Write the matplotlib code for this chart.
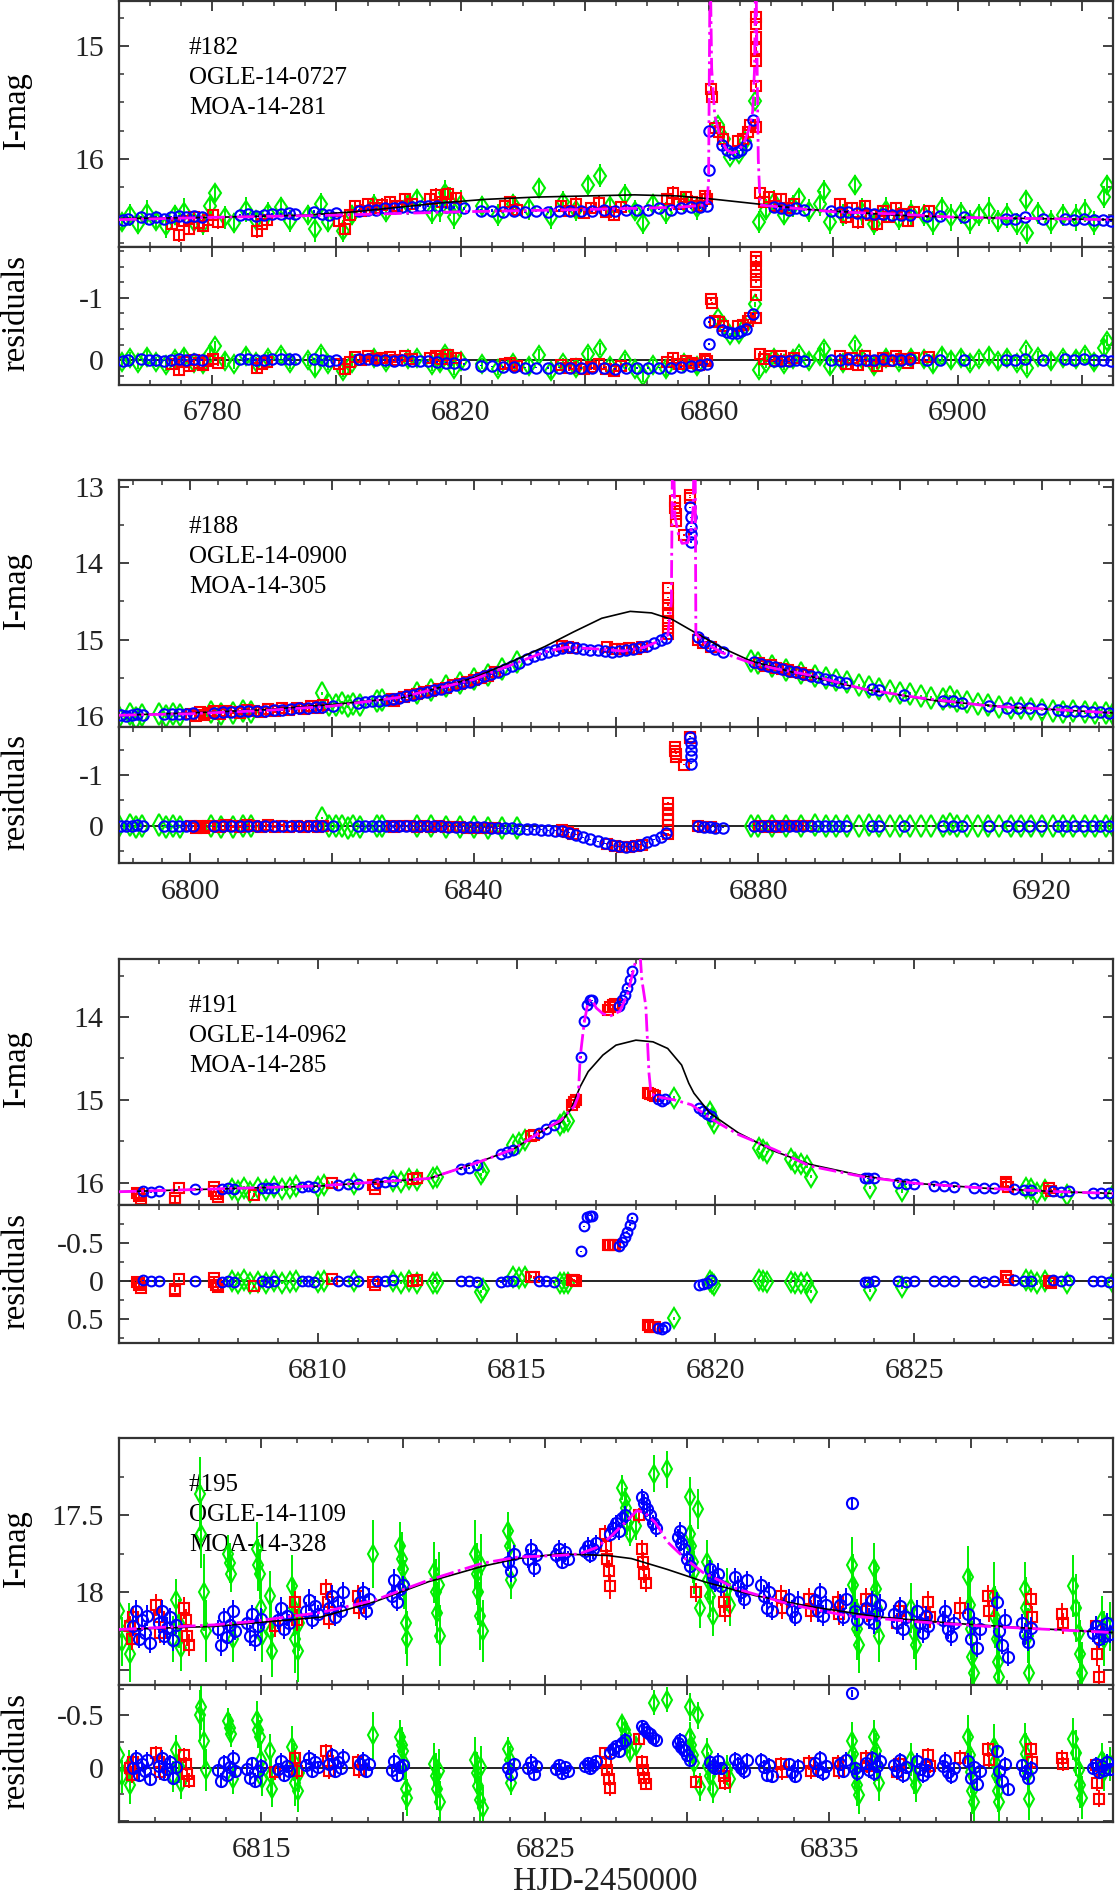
import matplotlib
matplotlib.use("Agg")
import matplotlib.pyplot as plt
from matplotlib.ticker import MultipleLocator, FuncFormatter

plt.rcParams["font.family"] = ["Liberation Serif", "DejaVu Serif"]
plt.rcParams["axes.unicode_minus"] = False

RED = "#ff0000"
BLUE = "#0000ff"
GREEN = "#00ee00"
MAGENTA = "#ff00ff"
FRAME = "#333333"

# ---------------------------------------------------------------- #182
LABEL_182 = ["#182", "OGLE-14-0727", "MOA-14-281"]
SINGLE_182_T = [6765, 6780, 6795, 6803, 6810, 6817, 6824, 6832, 6840, 6848, 6855, 6861,
                6866, 6871, 6876, 6882, 6890, 6900, 6912, 6925]
SINGLE_182_M = [16.53, 16.52, 16.50, 16.47, 16.43, 16.39, 16.36, 16.34, 16.33, 16.32, 16.33, 16.36,
                16.39, 16.42, 16.45, 16.47, 16.50, 16.52, 16.53, 16.54]
BINARY_182_T = [6765, 6780, 6800, 6820, 6840, 6855, 6859.6, 6859.9, 6860.0, 6860.15, 6860.4, 6860.9,
                6861.8, 6862.8, 6863.7, 6864.7, 6865.6, 6866.4, 6867.0, 6867.3, 6867.5, 6867.7,
                6867.9, 6868.2, 6872, 6880, 6890, 6900, 6925]
BINARY_182_M = [16.54, 16.52, 16.50, 16.47, 16.45, 16.43, 16.41, 16.2, 15.4, 14.2, 15.2, 15.62,
                15.82, 15.92, 15.95, 15.93, 15.86, 15.74, 15.58, 15.2, 14.2, 15.1,
                16.0, 16.41, 16.43, 16.47, 16.49, 16.52, 16.54]
# (HJD, I-mag, residual, error)
BLUE_182 = [
    (6765.6, 16.54, 0.01, .012), (6766.4, 16.53, 0.00, .012), (6768.6, 16.52, -0.01, .012),
    (6769.8, 16.53, 0.00, .012), (6771.0, 16.52, 0.00, .012), (6772.2, 16.53, 0.01, .012),
    (6773.4, 16.52, 0.00, .012), (6774.6, 16.51, -0.01, .012), (6775.8, 16.52, 0.00, .012),
    (6777.0, 16.51, -0.01, .012), (6778.3, 16.52, 0.00, .012),
    (6784.5, 16.50, -0.01, .012), (6785.8, 16.49, -0.02, .012), (6787.1, 16.51, 0.00, .012),
    (6788.4, 16.50, 0.00, .012), (6789.7, 16.49, -0.01, .012), (6791.0, 16.49, -0.01, .012),
    (6792.3, 16.48, -0.02, .012), (6793.4, 16.49, -0.01, .012),
    (6796.4, 16.47, -0.02, .012), (6797.6, 16.49, 0.00, .012), (6798.8, 16.50, 0.01, .012),
    (6800.0, 16.48, 0.00, .012),
    (6803.6, 16.46, -0.01, .012), (6805.0, 16.45, -0.01, .012), (6806.4, 16.45, 0.00, .012),
    (6807.8, 16.44, 0.00, .012), (6809.2, 16.44, 0.01, .012), (6810.6, 16.43, 0.00, .012),
    (6812.2, 16.43, 0.01, .012), (6813.4, 16.42, 0.01, .012), (6814.8, 16.42, 0.02, .012),
    (6816.2, 16.42, 0.03, .012), (6817.6, 16.43, 0.04, .012), (6819.0, 16.43, 0.04, .012),
    (6820.5, 16.44, 0.06, .012),
    (6823.2, 16.46, 0.09, .012), (6825.0, 16.46, 0.10, .012), (6826.8, 16.47, 0.11, .012),
    (6828.6, 16.46, 0.11, .012), (6830.4, 16.47, 0.12, .012), (6832.2, 16.46, 0.12, .012),
    (6834.0, 16.47, 0.13, .012), (6835.8, 16.46, 0.12, .012), (6837.6, 16.46, 0.13, .012),
    (6839.4, 16.46, 0.13, .012), (6841.2, 16.46, 0.13, .012), (6843.0, 16.45, 0.12, .012),
    (6844.8, 16.46, 0.14, .012), (6846.6, 16.45, 0.13, .012), (6848.4, 16.45, 0.13, .012),
    (6850.2, 16.45, 0.13, .012), (6852.0, 16.44, 0.12, .012), (6853.8, 16.45, 0.12, .012),
    (6855.4, 16.44, 0.11, .012), (6857.0, 16.43, 0.09, .012), (6858.6, 16.43, 0.08, .012),
    (6859.6, 16.42, 0.06, .012),
    (6859.95, 16.10, -0.26, .012), (6860.0, 15.75, -0.61, .012),
    (6862.0, 15.88, -0.49, .012), (6862.8, 15.92, -0.45, .012), (6863.6, 15.95, -0.43, .012),
    (6864.4, 15.94, -0.44, .012), (6865.2, 15.92, -0.46, .012), (6866.0, 15.88, -0.50, .012),
    (6867.1, 15.66, -0.74, .012),
    (6870.4, 16.43, 0.02, .012), (6871.6, 16.44, 0.01, .012), (6872.8, 16.45, 0.02, .012),
    (6874.0, 16.44, 0.00, .012), (6875.2, 16.45, 0.01, .012),
    (6879.6, 16.46, 0.00, .012), (6881.0, 16.47, 0.00, .012), (6882.4, 16.47, -0.01, .012),
    (6883.8, 16.48, 0.00, .012), (6885.2, 16.48, 0.00, .012), (6886.6, 16.49, 0.00, .012),
    (6888.0, 16.49, -0.01, .012), (6889.4, 16.50, 0.00, .012), (6890.8, 16.50, 0.00, .012),
    (6892.4, 16.50, -0.01, .012), (6895.0, 16.51, 0.00, .012), (6897.2, 16.51, 0.00, .012),
    (6901.0, 16.52, 0.00, .012), (6907.8, 16.53, 0.00, .012), (6909.2, 16.53, 0.00, .012),
    (6910.8, 16.52, -0.01, .012), (6913.8, 16.53, 0.00, .012), (6917.2, 16.53, -0.01, .012),
    (6918.8, 16.54, 0.00, .012), (6920.4, 16.53, -0.01, .012), (6922.0, 16.54, 0.00, .012),
    (6923.4, 16.54, 0.00, .012), (6924.6, 16.55, 0.01, .012),
]
RED_182 = [
    (6773.6, 16.58, 0.06, .05), (6774.6, 16.68, 0.16, .06), (6775.4, 16.55, 0.03, .05),
    (6776.2, 16.62, 0.10, .06), (6777.0, 16.52, 0.00, .05), (6777.8, 16.57, 0.05, .06),
    (6778.6, 16.60, 0.08, .05), (6779.4, 16.54, 0.02, .06), (6780.2, 16.50, -0.02, .05),
    (6781.0, 16.56, 0.04, .06),
    (6787.2, 16.64, 0.13, .06), (6788.0, 16.58, 0.07, .05), (6788.8, 16.54, 0.03, .05),
    (6800.4, 16.55, 0.07, .05), (6801.4, 16.62, 0.15, .06), (6802.2, 16.50, 0.03, .05),
    (6803.0, 16.42, -0.05, .05), (6804.0, 16.46, 0.00, .06), (6805.0, 16.40, -0.06, .05),
    (6806.2, 16.44, -0.01, .05), (6807.4, 16.41, -0.03, .06), (6808.6, 16.38, -0.05, .05),
    (6809.8, 16.42, 0.00, .05), (6811.0, 16.36, -0.06, .06), (6812.2, 16.40, -0.02, .05),
    (6815.0, 16.36, -0.04, .05), (6816.0, 16.32, -0.07, .06), (6817.0, 16.38, -0.01, .05),
    (6818.0, 16.31, -0.08, .06), (6819.2, 16.35, -0.04, .05),
    (6827.2, 16.42, 0.07, .05), (6828.0, 16.38, 0.04, .05), (6829.0, 16.45, 0.10, .06),
    (6836.2, 16.42, 0.08, .05), (6837.4, 16.46, 0.12, .05), (6838.6, 16.40, 0.07, .06),
    (6839.8, 16.48, 0.15, .05), (6841.0, 16.44, 0.11, .05), (6842.2, 16.39, 0.06, .06),
    (6843.4, 16.47, 0.14, .05), (6844.6, 16.50, 0.17, .05), (6845.8, 16.43, 0.10, .05),
    (6853.2, 16.36, 0.03, .05), (6854.2, 16.30, -0.03, .06), (6855.2, 16.40, 0.07, .05),
    (6856.2, 16.34, 0.01, .05), (6857.2, 16.38, 0.04, .06), (6858.4, 16.42, 0.08, .05),
    (6859.4, 16.33, -0.02, .05), (6859.7, 16.36, 0.01, .05),
    (6860.3, 15.38, -0.98, .03), (6860.4, 15.45, -0.91, .03),
    (6861.0, 15.73, -0.63, .03), (6861.6, 15.76, -0.61, .03), (6862.2, 15.82, -0.55, .03),
    (6864.6, 15.84, -0.54, .03), (6865.4, 15.82, -0.56, .03), (6866.2, 15.76, -0.62, .03),
    (6866.6, 15.70, -0.67, .03),
    (6867.5, 14.74, -1.65, .02), (6867.5, 14.80, -1.59, .02), (6867.5, 14.92, -1.47, .02),
    (6867.5, 15.03, -1.36, .02), (6867.5, 15.13, -1.26, .02), (6867.6, 15.35, -1.04, .02),
    (6867.6, 15.72, -0.67, .02),
    (6868.2, 16.30, -0.10, .05), (6868.8, 16.38, -0.02, .06), (6869.6, 16.34, -0.07, .05),
    (6870.6, 16.42, 0.01, .05), (6871.6, 16.36, -0.06, .06), (6872.6, 16.44, 0.02, .05),
    (6873.6, 16.40, -0.04, .05),
    (6881.0, 16.40, -0.06, .05), (6882.0, 16.52, 0.06, .06), (6883.0, 16.44, -0.03, .05),
    (6884.0, 16.56, 0.08, .06), (6885.0, 16.42, -0.06, .05), (6886.0, 16.50, 0.02, .05),
    (6887.0, 16.58, 0.09, .06), (6888.0, 16.46, -0.03, .05), (6889.0, 16.52, 0.02, .05),
    (6890.0, 16.44, -0.06, .06), (6891.0, 16.49, -0.01, .05), (6892.0, 16.55, 0.05, .05),
    (6893.0, 16.47, -0.03, .05), (6895.4, 16.46, -0.05, .05),
]
GREEN_182 = [
    (6765.5, 16.56, 0.03, .08), (6766.8, 16.50, -0.03, .10), (6768.0, 16.58, 0.05, .09),
    (6769.5, 16.48, -0.05, .11), (6771.0, 16.55, 0.03, .08), (6772.5, 16.60, 0.08, .10),
    (6774.0, 16.50, -0.02, .09), (6775.5, 16.47, -0.05, .12), (6777.0, 16.56, 0.04, .08),
    (6778.5, 16.58, 0.06, .10), (6779.6, 16.42, -0.10, .09), (6780.4, 16.30, -0.22, .08),
    (6782.0, 16.52, 0.01, .10), (6783.5, 16.57, 0.06, .09), (6785.5, 16.45, -0.06, .11),
    (6787.0, 16.54, 0.03, .08), (6789.0, 16.48, -0.03, .10), (6791.0, 16.43, -0.08, .09),
    (6792.5, 16.55, 0.04, .10),
    (6795.5, 16.50, 0.00, .09), (6796.5, 16.62, 0.12, .12), (6797.5, 16.40, -0.09, .10),
    (6798.6, 16.56, 0.07, .09), (6801.0, 16.64, 0.17, .10), (6802.5, 16.50, 0.04, .09),
    (6806.0, 16.41, -0.04, .10), (6808.0, 16.47, 0.03, .09), (6811.5, 16.40, -0.02, .10),
    (6813.0, 16.36, -0.04, .09),
    (6815.4, 16.48, 0.08, .10), (6816.6, 16.44, 0.04, .12), (6817.4, 16.30, -0.09, .11),
    (6818.2, 16.38, -0.01, .13), (6819.0, 16.52, 0.14, .10), (6820.0, 16.40, 0.02, .12),
    (6823.5, 16.42, 0.06, .09), (6826.0, 16.50, 0.14, .10), (6828.5, 16.40, 0.05, .09),
    (6831.0, 16.44, 0.10, .10), (6832.6, 16.26, -0.08, .09), (6834.5, 16.52, 0.18, .10),
    (6836.5, 16.38, 0.05, .09), (6838.5, 16.45, 0.12, .10), (6840.5, 16.23, -0.10, .09),
    (6842.4, 16.15, -0.18, .10), (6844.0, 16.42, 0.10, .09), (6846.4, 16.32, 0.00, .10),
    (6848.0, 16.46, 0.14, .09), (6849.3, 16.57, 0.25, .10), (6851.0, 16.40, 0.08, .09),
    (6853.0, 16.48, 0.15, .10), (6856.0, 16.38, 0.05, .09), (6858.0, 16.44, 0.10, .10),
    (6861.4, 15.70, -0.67, .04), (6862.4, 15.82, -0.55, .04), (6863.4, 15.98, -0.40, .04),
    (6864.8, 15.96, -0.42, .04), (6865.8, 15.84, -0.54, .04), (6867.3, 15.49, -0.90, .04),
    (6868.0, 16.56, 0.16, .10), (6869.2, 16.45, 0.04, .09), (6870.5, 16.38, -0.04, .10),
    (6872.0, 16.50, 0.07, .09), (6873.5, 16.42, -0.02, .10), (6874.5, 16.35, -0.09, .09),
    (6876.0, 16.46, 0.01, .10), (6877.8, 16.40, -0.06, .11), (6878.5, 16.29, -0.17, .10),
    (6879.5, 16.56, 0.10, .11), (6881.5, 16.50, 0.04, .10), (6883.4, 16.23, -0.24, .09),
    (6884.6, 16.47, -0.01, .12), (6886.5, 16.58, 0.10, .10), (6888.5, 16.45, -0.04, .11),
    (6890.5, 16.53, 0.03, .10), (6892.5, 16.48, -0.03, .11), (6894.5, 16.50, -0.01, .10),
    (6896.0, 16.57, 0.06, .11), (6897.5, 16.44, -0.07, .10), (6899.0, 16.52, 0.00, .12),
    (6900.5, 16.48, -0.04, .10), (6902.0, 16.56, 0.04, .11), (6903.5, 16.50, -0.02, .10),
    (6905.0, 16.46, -0.07, .12), (6906.5, 16.55, 0.02, .10), (6908.0, 16.50, -0.03, .11),
    (6909.5, 16.58, 0.05, .10), (6911.0, 16.37, -0.16, .09), (6911.2, 16.66, 0.13, .10),
    (6913.0, 16.48, -0.05, .10), (6915.0, 16.56, 0.02, .11), (6917.0, 16.50, -0.03, .10),
    (6919.0, 16.52, -0.02, .12), (6920.5, 16.46, -0.08, .10), (6922.0, 16.57, 0.03, .11),
    (6923.5, 16.34, -0.20, .10), (6924.0, 16.23, -0.31, .09),
]

# ---------------------------------------------------------------- #188
LABEL_188 = ["#188", "OGLE-14-0900", "MOA-14-305"]
SINGLE_188_T = [6790, 6800, 6810, 6820, 6830, 6840, 6845, 6850, 6854, 6858, 6862, 6865, 6868,
                6871, 6875, 6879, 6885, 6895, 6905, 6915, 6930]
SINGLE_188_M = [15.99, 15.96, 15.92, 15.85, 15.76, 15.50, 15.30, 15.09, 14.90, 14.72, 14.63, 14.65,
                14.74, 14.90, 15.11, 15.28, 15.43, 15.65, 15.80, 15.88, 15.96]
BINARY_188_T = [6790, 6800, 6810, 6820, 6830, 6840, 6845, 6850, 6853, 6857, 6861, 6864, 6866,
                6867.3, 6867.8, 6867.95, 6868.1, 6868.3, 6868.8, 6869.3, 6870.1, 6870.6, 6870.85,
                6871.0, 6871.15, 6871.25, 6872.3, 6874.9, 6878.9, 6882, 6887.5, 6895, 6902.6,
                6912.6, 6922.7, 6930]
BINARY_188_M = [15.99, 15.97, 15.93, 15.87, 15.75, 15.52, 15.34, 15.16, 15.10, 15.12, 15.15, 15.10,
                15.02, 14.94, 14.5, 12.6, 12.6, 13.39, 13.62, 13.74, 13.73, 13.55, 13.3,
                12.6, 12.6, 14.92, 15.03, 15.17, 15.30, 15.37, 15.47, 15.65, 15.76,
                15.87, 15.92, 15.96]
BLUE_188 = [
    (6790.3, 15.99, 0.00, .01), (6791.0, 16.00, 0.01, .01), (6791.8, 15.99, 0.00, .01),
    (6792.6, 15.98, -0.01, .01), (6793.4, 15.99, 0.00, .01),
    (6796.4, 15.98, 0.00, .01), (6797.4, 15.98, 0.01, .01), (6798.4, 15.97, 0.00, .01),
    (6799.4, 15.97, 0.00, .01), (6800.4, 15.96, 0.00, .01),
    (6803.4, 15.96, 0.01, .01), (6804.6, 15.95, 0.01, .01), (6805.8, 15.95, 0.00, .01),
    (6807.0, 15.94, 0.00, .01), (6808.2, 15.94, 0.01, .01), (6809.4, 15.93, 0.00, .01),
    (6810.6, 15.93, 0.01, .01), (6811.8, 15.92, 0.01, .01), (6813.0, 15.92, 0.01, .01),
    (6814.2, 15.91, 0.01, .01), (6815.4, 15.90, 0.01, .01), (6816.6, 15.89, 0.00, .01),
    (6817.8, 15.88, 0.01, .01), (6818.6, 15.88, 0.01, .01), (6820.2, 15.87, 0.01, .01),
    (6823.6, 15.83, 0.01, .01), (6824.6, 15.82, 0.01, .01), (6825.6, 15.81, 0.00, .01),
    (6826.6, 15.80, 0.00, .01), (6827.6, 15.79, 0.00, .01), (6828.6, 15.78, 0.01, .01),
    (6829.4, 15.77, 0.01, .01), (6830.4, 15.74, 0.00, .01), (6831.4, 15.72, 0.00, .01),
    (6832.4, 15.70, 0.01, .01), (6833.4, 15.68, 0.00, .01), (6834.4, 15.66, 0.01, .01),
    (6835.4, 15.64, 0.01, .01), (6836.4, 15.62, 0.02, .01), (6837.4, 15.60, 0.02, .01),
    (6838.4, 15.57, 0.02, .01), (6839.4, 15.55, 0.03, .01), (6840.4, 15.52, 0.03, .01),
    (6841.4, 15.48, 0.03, .01), (6842.4, 15.45, 0.04, .01), (6843.4, 15.42, 0.05, .01),
    (6844.4, 15.38, 0.05, .01), (6845.4, 15.34, 0.05, .01), (6846.4, 15.30, 0.06, .01),
    (6847.4, 15.26, 0.07, .01), (6848.4, 15.22, 0.07, .01), (6849.4, 15.19, 0.08, .01),
    (6850.4, 15.16, 0.09, .01), (6851.4, 15.13, 0.10, .01), (6852.4, 15.11, 0.11, .01),
    (6853.4, 15.10, 0.14, .01), (6854.4, 15.11, 0.18, .01), (6855.4, 15.12, 0.23, .01),
    (6856.4, 15.14, 0.27, .01), (6857.4, 15.13, 0.31, .01), (6858.4, 15.15, 0.35, .01),
    (6859.4, 15.16, 0.38, .01), (6860.4, 15.15, 0.40, .01), (6861.4, 15.14, 0.41, .01),
    (6862.4, 15.12, 0.40, .01), (6863.4, 15.10, 0.37, .01), (6864.4, 15.08, 0.33, .01),
    (6865.4, 15.04, 0.28, .01), (6866.4, 15.00, 0.22, .01), (6867.0, 14.98, 0.15, .01),
    (6870.4, 13.27, -1.75, .01), (6870.5, 13.40, -1.63, .01), (6870.5, 13.52, -1.50, .01),
    (6870.6, 13.62, -1.38, .01), (6870.6, 13.72, -1.22, .01),
    (6871.6, 14.97, 0.01, .01), (6872.4, 15.03, 0.02, .01), (6873.2, 15.08, 0.03, .01),
    (6874.0, 15.12, 0.04, .01), (6875.0, 15.16, 0.04, .01),
    (6879.4, 15.29, 0.00, .01), (6880.4, 15.32, 0.00, .01), (6881.4, 15.34, 0.00, .01),
    (6882.4, 15.36, 0.00, .01), (6883.4, 15.38, 0.00, .01), (6884.4, 15.41, 0.00, .01),
    (6885.4, 15.43, 0.00, .01), (6886.4, 15.45, 0.00, .01), (6887.4, 15.47, 0.00, .01),
    (6888.4, 15.49, 0.00, .01), (6889.4, 15.51, 0.00, .01), (6890.4, 15.53, 0.00, .01),
    (6891.4, 15.55, 0.00, .01), (6892.4, 15.57, 0.00, .01),
    (6896.0, 15.65, 0.00, .01), (6897.0, 15.66, 0.00, .01), (6900.6, 15.72, 0.00, .01),
    (6906.0, 15.80, 0.00, .01), (6907.4, 15.81, 0.00, .01), (6908.8, 15.83, 0.00, .01),
    (6912.6, 15.87, 0.00, .01), (6915.0, 15.89, 0.00, .01), (6916.6, 15.90, 0.00, .01),
    (6918.2, 15.90, 0.00, .01), (6919.8, 15.91, 0.00, .01),
    (6922.2, 15.92, 0.00, .01), (6923.4, 15.93, 0.00, .01), (6924.6, 15.93, 0.00, .01),
    (6925.8, 15.94, 0.00, .01), (6927.0, 15.95, 0.00, .01), (6928.2, 15.95, 0.00, .01),
    (6929.4, 15.96, 0.00, .01),
]
RED_188 = [
    (6800.2, 15.97, 0.01, .03), (6800.8, 16.00, 0.04, .03), (6801.4, 15.95, 0.00, .03),
    (6802.0, 15.99, 0.04, .03), (6802.6, 15.96, 0.01, .03), (6803.4, 15.94, 0.00, .03),
    (6804.2, 15.97, 0.02, .03), (6805.0, 15.93, -0.01, .03), (6806.0, 15.95, 0.01, .03),
    (6807.0, 15.96, 0.02, .03), (6808.0, 15.92, -0.01, .03), (6809.0, 15.94, 0.01, .03),
    (6810.0, 15.95, 0.03, .03), (6811.0, 15.91, -0.01, .03), (6812.0, 15.93, 0.02, .03),
    (6813.0, 15.90, 0.00, .03), (6814.0, 15.92, 0.02, .03), (6815.0, 15.89, 0.01, .03),
    (6816.0, 15.91, 0.03, .03), (6817.0, 15.87, 0.00, .03), (6818.0, 15.90, 0.03, .03),
    (6818.8, 15.86, 0.00, .03), (6828.4, 15.78, 0.01, .02), (6828.8, 15.80, 0.03, .02),
    (6830.2, 15.75, 0.01, .02), (6831.0, 15.72, 0.00, .02), (6832.0, 15.71, 0.02, .02),
    (6833.0, 15.68, 0.01, .02), (6834.0, 15.67, 0.02, .02), (6835.0, 15.64, 0.01, .02),
    (6836.0, 15.63, 0.03, .02), (6837.0, 15.60, 0.03, .02), (6838.0, 15.58, 0.03, .02),
    (6839.0, 15.56, 0.04, .02), (6840.0, 15.53, 0.04, .02), (6841.0, 15.50, 0.04, .02),
    (6842.0, 15.47, 0.05, .02), (6843.0, 15.43, 0.05, .02),
    (6852.4, 15.08, 0.08, .02), (6853.2, 15.09, 0.12, .02), (6854.0, 15.11, 0.16, .02),
    (6858.8, 15.10, 0.36, .02), (6859.8, 15.12, 0.39, .02), (6860.8, 15.12, 0.41, .02),
    (6861.8, 15.11, 0.41, .02), (6862.8, 15.12, 0.40, .02), (6863.6, 15.10, 0.38, .02),
    (6867.3, 14.92, 0.16, .01), (6867.3, 14.85, 0.08, .01), (6867.3, 14.75, -0.02, .01),
    (6867.3, 14.65, -0.12, .01), (6867.3, 14.55, -0.22, .01), (6867.3, 14.45, -0.32, .01),
    (6867.3, 14.32, -0.45, .01),
    (6868.3, 13.19, -1.56, .01), (6868.3, 13.28, -1.48, .01), (6868.4, 13.35, -1.42, .01),
    (6868.4, 13.45, -1.36, .01), (6869.6, 13.63, -1.20, .01), (6870.4, 13.11, -1.75, .01),
    (6870.4, 13.14, -1.72, .01),
    (6871.6, 15.00, 0.01, .02), (6872.2, 15.04, 0.02, .02), (6873.4, 15.10, 0.03, .02),
    (6880.2, 15.31, 0.01, .02), (6881.0, 15.34, 0.02, .02), (6881.8, 15.33, 0.00, .02),
    (6882.6, 15.37, 0.02, .02), (6883.4, 15.38, 0.01, .02), (6884.2, 15.40, 0.01, .02),
    (6885.0, 15.42, 0.01, .02), (6886.0, 15.44, 0.01, .02), (6887.0, 15.46, 0.01, .02),
]
GREEN_188 = [
    (6790.0, 16.01, 0.01, .02), (6791.6, 15.98, -0.01, .02), (6792.4, 16.02, 0.03, .02),
    (6793.2, 15.99, 0.00, .02), (6795.6, 15.97, -0.01, .02), (6796.6, 16.00, 0.02, .02),
    (6797.6, 15.98, 0.01, .02), (6798.6, 15.99, 0.02, .02),
    (6803.0, 15.95, 0.00, .02), (6804.4, 15.97, 0.02, .02), (6806.0, 15.96, 0.02, .02),
    (6807.4, 15.94, 0.00, .02), (6808.6, 15.95, 0.01, .02),
    (6818.6, 15.70, -0.15, .02), (6819.6, 15.86, 0.01, .02), (6820.6, 15.85, 0.01, .02),
    (6821.4, 15.83, 0.00, .02), (6822.2, 15.87, 0.04, .02), (6823.0, 15.84, 0.01, .02),
    (6824.0, 15.85, 0.03, .02), (6826.4, 15.80, 0.00, .02), (6827.0, 15.79, 0.00, .02),
    (6832.0, 15.70, 0.01, .02), (6834.0, 15.66, 0.01, .02), (6836.0, 15.61, 0.02, .02),
    (6838.0, 15.57, 0.02, .02), (6840.0, 15.51, 0.03, .02), (6842.0, 15.46, 0.04, .02),
    (6844.0, 15.38, 0.04, .02), (6846.0, 15.29, 0.05, .02),
    (6879.0, 15.28, 0.00, .02), (6880.0, 15.31, 0.01, .02), (6882.0, 15.35, 0.00, .02),
    (6884.0, 15.40, 0.00, .02), (6886.0, 15.44, 0.00, .02), (6888.0, 15.47, -0.01, .02),
    (6889.6, 15.50, 0.00, .02), (6891.0, 15.53, 0.00, .02), (6892.6, 15.56, 0.00, .02),
    (6894.2, 15.60, 0.00, .02), (6895.6, 15.62, -0.01, .02), (6897.0, 15.65, 0.00, .02),
    (6898.6, 15.67, 0.00, .02), (6900.0, 15.70, 0.00, .02), (6901.4, 15.71, 0.00, .02),
    (6903.0, 15.74, 0.00, .02), (6904.4, 15.76, 0.00, .02), (6906.0, 15.78, 0.00, .02),
    (6907.0, 15.75, -0.04, .02), (6908.0, 15.81, 0.00, .02), (6909.4, 15.82, 0.00, .02),
    (6911.0, 15.84, 0.00, .02), (6912.4, 15.86, 0.00, .02), (6914.0, 15.88, 0.00, .02),
    (6915.6, 15.89, 0.00, .02), (6917.0, 15.90, 0.00, .02), (6918.4, 15.91, 0.00, .02),
    (6920.0, 15.92, 0.00, .02), (6921.6, 15.93, 0.00, .02), (6923.0, 15.95, 0.01, .02),
    (6924.4, 15.94, 0.00, .02), (6926.0, 15.95, 0.00, .02), (6927.4, 15.96, 0.00, .02),
    (6929.0, 15.96, 0.00, .02), (6930.0, 15.97, 0.00, .02),
]

# ---------------------------------------------------------------- #191
LABEL_191 = ["#191", "OGLE-14-0962", "MOA-14-285"]
SINGLE_191_T = [6805, 6810.1, 6812.8, 6814.0, 6814.9, 6815.84, 6816.1, 6816.36, 6816.6, 6816.8,
                6817.17, 6817.5, 6818.0, 6818.43, 6818.8, 6819.15, 6819.33, 6819.46, 6819.86,
                6820.58, 6821.48, 6822.38, 6823.73, 6825.07, 6826.87, 6828.67, 6830]
SINGLE_191_M = [16.11, 16.04, 15.95, 15.76, 15.60, 15.32, 15.28, 15.12, 14.84, 14.66,
                14.46, 14.34, 14.28, 14.30, 14.38, 14.58, 14.80, 14.92, 15.16,
                15.40, 15.62, 15.78, 15.92, 16.01, 16.07, 16.11, 16.13]
BINARY_191_T = [6805, 6810, 6812.8, 6814.0, 6814.9, 6815.84, 6816.1, 6816.45, 6816.55, 6816.6,
                6816.7, 6816.8, 6816.9, 6817.0, 6817.17, 6817.35, 6817.6, 6817.8, 6818.0,
                6818.05, 6818.1, 6818.15, 6818.25, 6818.33, 6818.38, 6818.5, 6818.96, 6819.4,
                6819.86, 6820.58, 6821.48, 6822.38, 6823.73, 6825.07, 6826.87, 6828.67, 6830]
BINARY_191_M = [16.11, 16.04, 15.95, 15.76, 15.60, 15.32, 15.25, 15.08, 14.96, 14.48,
                14.07, 13.81, 13.79, 13.89, 13.96, 13.99, 13.93, 13.71, 13.31,
                13.1, 13.2, 13.55, 13.87, 14.68, 14.92, 14.96, 15.00, 15.06,
                15.22, 15.42, 15.60, 15.80, 15.93, 16.01, 16.07, 16.11, 16.13]
BLUE_191 = [
    (6805.6, 16.10, -0.01, .01), (6805.8, 16.11, 0.00, .01), (6806.0, 16.10, 0.00, .01),
    (6806.9, 16.08, 0.00, .01), (6807.6, 16.08, 0.01, .01), (6807.75, 16.07, 0.00, .01),
    (6807.9, 16.08, 0.01, .01), (6808.6, 16.06, 0.00, .01), (6808.75, 16.07, 0.01, .01),
    (6808.9, 16.06, 0.00, .01), (6809.6, 16.05, 0.00, .01), (6809.75, 16.04, 0.00, .01),
    (6809.9, 16.05, 0.01, .01), (6810.5, 16.03, 0.00, .01), (6810.75, 16.02, 0.00, .01),
    (6811.0, 16.02, 0.00, .01), (6811.5, 16.00, 0.00, .01), (6811.7, 15.99, 0.00, .01),
    (6811.9, 15.98, -0.01, .01), (6813.6, 15.84, 0.00, .01), (6813.8, 15.82, 0.00, .01),
    (6814.0, 15.79, 0.01, .01), (6814.6, 15.66, 0.01, .01), (6814.75, 15.63, 0.00, .01),
    (6814.9, 15.60, 0.00, .01), (6815.56, 15.40, 0.00, .01), (6815.75, 15.35, 0.00, .01),
    (6815.95, 15.31, 0.01, .01),
    (6816.62, 14.48, -0.39, .01), (6816.7, 14.05, -0.72, .01), (6816.77, 13.85, -0.84, .01),
    (6816.84, 13.79, -0.86, .01), (6816.9, 13.80, -0.85, .01), (6817.58, 13.87, -0.46, .01),
    (6817.66, 13.80, -0.52, .01), (6817.72, 13.73, -0.58, .01), (6817.78, 13.65, -0.65, .01),
    (6817.84, 13.55, -0.74, .01), (6817.9, 13.45, -0.83, .01),
    (6818.56, 14.99, 0.62, .01), (6818.65, 15.01, 0.63, .01), (6818.72, 14.99, 0.60, .01),
    (6819.6, 15.10, 0.05, .01), (6819.7, 15.14, 0.04, .01), (6819.8, 15.17, 0.02, .01),
    (6819.9, 15.20, -0.01, .01),
    (6823.75, 15.94, 0.01, .01), (6823.85, 15.95, 0.01, .01), (6824.0, 15.95, 0.00, .01),
    (6824.6, 16.00, 0.00, .01), (6824.8, 16.02, 0.01, .01), (6825.0, 16.02, 0.00, .01),
    (6825.5, 16.04, 0.00, .01), (6825.75, 16.04, 0.00, .01), (6826.0, 16.05, 0.00, .01),
    (6826.5, 16.06, 0.00, .01), (6826.75, 16.07, 0.01, .01), (6827.0, 16.07, 0.00, .01),
    (6827.5, 16.08, -0.01, .01), (6827.75, 16.09, 0.00, .01), (6827.95, 16.09, 0.00, .01),
    (6828.5, 16.10, -0.01, .01), (6828.7, 16.11, 0.00, .01), (6828.9, 16.10, -0.01, .01),
    (6829.5, 16.12, 0.00, .01), (6829.7, 16.12, 0.00, .01), (6829.9, 16.13, 0.01, .01),
]
RED_191 = [
    (6805.45, 16.12, 0.01, .02), (6805.5, 16.16, 0.05, .02), (6805.55, 16.20, 0.09, .02),
    (6805.5, 16.14, 0.03, .02), (6806.4, 16.22, 0.13, .02), (6806.4, 16.19, 0.10, .02),
    (6806.5, 16.06, -0.03, .02), (6807.4, 16.05, -0.04, .02), (6807.4, 16.10, 0.01, .02),
    (6807.45, 16.14, 0.05, .02), (6807.5, 16.17, 0.08, .02), (6808.4, 16.15, 0.07, .02),
    (6810.36, 16.00, -0.03, .02), (6811.4, 16.03, 0.01, .02), (6811.45, 16.08, 0.05, .02),
    (6812.4, 15.96, 0.00, .02), (6812.5, 15.95, -0.01, .02), (6815.35, 15.44, -0.06, .02),
    (6815.45, 15.42, -0.05, .02),
    (6816.4, 15.06, -0.02, .02), (6816.45, 15.03, -0.01, .02), (6816.5, 15.00, 0.00, .02),
    (6817.3, 13.91, -0.47, .01), (6817.36, 13.88, -0.48, .01), (6817.42, 13.86, -0.47, .01),
    (6817.48, 13.84, -0.48, .01),
    (6818.3, 14.92, 0.58, .01), (6818.36, 14.93, 0.60, .01), (6818.42, 14.94, 0.60, .01),
    (6818.48, 14.95, 0.61, .01),
    (6827.3, 16.02, -0.05, .02), (6827.3, 15.99, -0.07, .02), (6827.35, 16.05, -0.02, .02),
    (6828.4, 16.06, 0.00, .02), (6828.45, 16.10, 0.03, .02),
]
GREEN_191 = [
    (6807.85, 16.08, 0.00, .02), (6808.0, 16.10, 0.02, .02), (6808.15, 16.06, -0.01, .02),
    (6808.3, 16.11, 0.03, .02), (6808.5, 16.07, 0.01, .02), (6808.7, 16.09, 0.03, .02),
    (6808.9, 16.05, 0.00, .02), (6809.1, 16.08, 0.02, .02), (6809.3, 16.06, 0.01, .02),
    (6809.45, 16.04, 0.00, .02), (6810.0, 16.05, 0.01, .02), (6810.15, 16.03, 0.00, .02),
    (6810.9, 16.02, 0.00, .02), (6811.9, 15.98, 0.00, .02), (6812.1, 15.99, 0.02, .02),
    (6812.3, 15.96, 0.00, .02), (6812.5, 15.97, 0.02, .02), (6812.9, 15.94, 0.02, .02),
    (6813.0, 15.93, 0.02, .02), (6814.1, 15.90, 0.14, .02), (6814.15, 15.86, 0.10, .02),
    (6814.9, 15.55, -0.05, .02), (6815.05, 15.52, -0.04, .02), (6815.2, 15.48, -0.05, .02),
    (6816.1, 15.30, 0.02, .02), (6816.2, 15.27, 0.02, .02), (6816.3, 15.25, 0.03, .02),
    (6818.96, 14.98, 0.49, .02),
    (6819.87, 15.15, 0.00, .02), (6819.92, 15.22, 0.02, .02), (6819.97, 15.28, 0.05, .02),
    (6821.1, 15.58, -0.01, .02), (6821.2, 15.61, 0.00, .02), (6821.3, 15.64, 0.01, .02),
    (6821.9, 15.72, 0.01, .02), (6822.0, 15.76, 0.03, .02), (6822.15, 15.78, 0.03, .02),
    (6822.3, 15.80, 0.02, .02), (6822.4, 15.93, 0.14, .02),
    (6823.9, 16.06, 0.12, .02), (6824.7, 16.10, 0.08, .02),
    (6827.8, 16.06, -0.02, .02), (6827.95, 16.08, 0.00, .02), (6828.1, 16.12, 0.03, .02),
    (6828.3, 16.09, 0.00, .02), (6828.85, 16.15, 0.03, .02), (6830.0, 16.15, 0.02, .02),
]

# ---------------------------------------------------------------- #195
LABEL_195 = ["#195", "OGLE-14-1109", "MOA-14-328"]
SINGLE_195_T = [6810, 6813.35, 6817.1, 6819.0, 6820.9, 6822.8, 6824.05, 6825.5, 6827.2, 6828.04,
                6829.3, 6830.6, 6832.4, 6834.3, 6836.8, 6839.4, 6841.9, 6845]
SINGLE_195_M = [18.24, 18.22, 18.16, 18.06, 17.93, 17.83, 17.78, 17.75, 17.76, 17.78,
                17.85, 17.93, 18.02, 18.09, 18.16, 18.20, 18.23, 18.26]
BINARY_195_T = [6810, 6813.35, 6814.6, 6817.1, 6819.0, 6820.9, 6822.8, 6824.05, 6825.5, 6826.2,
                6826.8, 6827.3, 6827.8, 6828.23, 6828.5, 6828.9, 6829.3, 6829.93, 6830.56,
                6831.8, 6833.7, 6835.6, 6838.1, 6840.6, 6845]
BINARY_195_M = [18.24, 18.21, 18.19, 18.13, 18.05, 17.92, 17.81, 17.77, 17.76, 17.75,
                17.71, 17.64, 17.55, 17.47, 17.48, 17.55, 17.67, 17.78, 17.87,
                17.98, 18.08, 18.15, 18.19, 18.22, 18.26]
BLUE_195 = [
    (6810.5, 18.22, 0.00, .06), (6810.6, 18.12, -0.10, .07), (6810.7, 18.30, 0.07, .06),
    (6810.8, 18.18, -0.04, .07), (6810.9, 18.26, 0.03, .06), (6811.0, 18.15, -0.08, .07),
    (6811.1, 18.33, 0.10, .06), (6811.4, 18.20, -0.02, .06), (6811.5, 18.12, -0.10, .07),
    (6811.6, 18.28, 0.06, .06), (6811.7, 18.23, 0.01, .07), (6811.8, 18.16, -0.06, .06),
    (6811.9, 18.31, 0.09, .07), (6812.0, 18.21, -0.01, .06),
    (6813.5, 18.24, 0.02, .06), (6813.6, 18.34, 0.12, .07), (6813.7, 18.16, -0.06, .06),
    (6813.8, 18.29, 0.07, .07), (6813.9, 18.21, -0.01, .06), (6814.0, 18.12, -0.10, .07),
    (6814.1, 18.25, 0.03, .06), (6814.5, 18.20, 0.01, .06), (6814.6, 18.28, 0.09, .07),
    (6814.7, 18.14, -0.05, .06), (6814.8, 18.31, 0.12, .07), (6814.9, 18.22, 0.03, .06),
    (6815.0, 18.17, -0.02, .07), (6815.6, 18.18, 0.01, .06), (6815.7, 18.10, -0.07, .07),
    (6815.8, 18.24, 0.07, .06), (6815.9, 18.15, -0.02, .07), (6816.0, 18.20, 0.03, .06),
    (6816.6, 18.12, -0.03, .06), (6816.7, 18.05, -0.10, .07), (6816.8, 18.18, 0.03, .06),
    (6816.9, 18.09, -0.06, .07), (6817.0, 18.14, -0.01, .06),
    (6817.4, 18.10, -0.04, .06), (6817.5, 18.02, -0.12, .07), (6817.6, 18.16, 0.03, .06),
    (6817.7, 18.06, -0.06, .07), (6817.8, 18.12, 0.00, .06), (6817.9, 18.00, -0.11, .07),
    (6818.5, 18.06, -0.04, .06), (6818.6, 18.00, -0.08, .07), (6818.7, 18.12, 0.03, .06),
    (6818.8, 18.04, -0.04, .07),
    (6819.6, 18.02, 0.02, .06), (6819.7, 17.92, -0.07, .07), (6819.8, 18.06, 0.07, .06),
    (6819.9, 17.98, -0.01, .07), (6820.0, 17.95, -0.03, .06),
    (6823.7, 17.80, 0.00, .06), (6823.8, 17.86, 0.06, .07), (6823.9, 17.75, -0.04, .06),
    (6824.4, 17.78, 0.00, .06), (6824.5, 17.72, -0.06, .07), (6824.6, 17.84, 0.06, .06),
    (6824.7, 17.76, -0.02, .07),
    (6825.4, 17.76, 0.01, .05), (6825.5, 17.72, -0.03, .06), (6825.6, 17.80, 0.05, .05),
    (6825.7, 17.74, -0.01, .06), (6825.8, 17.78, 0.03, .05),
    (6826.4, 17.73, -0.02, .05), (6826.5, 17.70, -0.05, .06), (6826.6, 17.76, 0.00, .05),
    (6826.7, 17.72, -0.03, .06), (6826.8, 17.68, -0.07, .05),
    (6827.3, 17.62, -0.14, .05), (6827.4, 17.58, -0.18, .06), (6827.5, 17.55, -0.21, .05),
    (6827.6, 17.60, -0.16, .06), (6827.7, 17.52, -0.24, .05), (6827.8, 17.50, -0.27, .06),
    (6828.4, 17.38, -0.40, .05), (6828.5, 17.42, -0.37, .06), (6828.6, 17.46, -0.34, .05),
    (6828.7, 17.50, -0.32, .06), (6828.8, 17.55, -0.29, .05), (6828.9, 17.58, -0.27, .06),
    (6829.7, 17.64, -0.24, .05), (6829.75, 17.60, -0.27, .06), (6829.8, 17.68, -0.20, .05),
    (6829.9, 17.72, -0.17, .06), (6830.0, 17.78, -0.12, .05), (6830.1, 17.83, -0.08, .06),
    (6830.8, 17.85, -0.06, .06), (6830.9, 17.90, -0.02, .07), (6831.0, 17.94, 0.00, .06),
    (6831.1, 17.88, -0.07, .07), (6831.2, 17.96, 0.00, .06),
    (6831.7, 17.90, -0.09, .06), (6831.8, 17.96, -0.04, .07), (6831.9, 18.00, 0.00, .06),
    (6832.0, 18.04, 0.03, .07), (6832.1, 17.92, -0.08, .06),
    (6832.6, 17.95, -0.08, .06), (6832.7, 18.02, -0.01, .07), (6832.8, 18.10, 0.07, .06),
    (6832.9, 18.00, -0.03, .07), (6833.0, 18.12, 0.08, .06),
    (6833.6, 18.04, -0.04, .06), (6833.7, 18.12, 0.04, .07), (6833.8, 18.16, 0.08, .06),
    (6833.9, 18.06, -0.02, .07),
    (6834.5, 18.05, -0.05, .06), (6834.6, 18.12, 0.02, .07), (6834.7, 18.00, -0.10, .06),
    (6834.8, 18.15, 0.05, .07), (6834.9, 18.08, -0.02, .06),
    (6835.4, 18.08, -0.04, .07), (6835.5, 18.16, 0.03, .06), (6835.6, 18.04, -0.08, .07),
    (6835.8, 17.42, -0.71, .03), (6835.9, 18.12, 0.00, .06), (6836.0, 18.18, 0.05, .07),
    (6836.3, 18.10, -0.05, .06), (6836.4, 18.17, 0.02, .07), (6836.5, 18.05, -0.10, .06),
    (6836.6, 18.20, 0.05, .07), (6836.7, 18.13, -0.02, .06), (6836.8, 18.08, -0.07, .07),
    (6837.3, 18.14, -0.03, .06), (6837.4, 18.20, 0.03, .07), (6837.5, 18.09, -0.08, .06),
    (6837.6, 18.24, 0.07, .07), (6837.7, 18.16, -0.01, .06),
    (6838.1, 18.12, -0.07, .07), (6838.2, 18.20, 0.01, .06), (6838.3, 18.26, 0.07, .07),
    (6838.4, 18.15, -0.04, .06), (6838.5, 18.22, 0.03, .07),
    (6839.0, 18.18, -0.02, .06), (6839.1, 18.12, -0.08, .07), (6839.2, 18.24, 0.04, .06),
    (6839.3, 18.28, 0.08, .07), (6839.4, 18.20, 0.00, .06),
    (6839.9, 18.14, -0.07, .07), (6840.0, 18.30, 0.09, .06), (6840.1, 18.20, -0.01, .07),
    (6840.2, 18.36, 0.15, .06), (6840.3, 18.24, 0.03, .07),
    (6840.9, 18.06, -0.16, .06), (6841.0, 18.25, 0.03, .07), (6841.1, 18.34, 0.12, .06),
    (6841.2, 18.18, -0.04, .07), (6841.3, 18.42, 0.20, .06),
    (6841.8, 18.20, -0.03, .06), (6841.9, 18.27, 0.04, .07), (6842.0, 18.32, 0.09, .06),
    (6842.1, 18.23, 0.00, .07),
    (6844.3, 18.26, 0.00, .06), (6844.4, 18.22, -0.04, .07), (6844.5, 18.30, 0.04, .06),
    (6844.6, 18.24, -0.02, .07), (6844.7, 18.28, 0.02, .06), (6844.8, 18.20, -0.06, .07),
    (6844.9, 18.27, 0.01, .06),
]
RED_195 = [
    (6810.4, 18.22, 0.00, .07), (6810.45, 18.30, 0.07, .07), (6810.5, 18.16, -0.06, .07),
    (6811.3, 18.08, -0.14, .07), (6811.4, 18.16, -0.06, .07), (6811.45, 18.26, 0.04, .07),
    (6812.3, 18.10, -0.12, .07), (6812.35, 18.18, -0.04, .07), (6812.4, 18.28, 0.06, .07),
    (6812.45, 18.34, 0.12, .07), (6815.5, 18.22, 0.04, .07), (6816.2, 18.06, -0.10, .07),
    (6816.25, 18.18, 0.03, .07), (6817.3, 17.98, -0.16, .07), (6817.35, 18.06, -0.07, .07),
    (6817.4, 18.17, 0.03, .07), (6818.4, 18.02, -0.06, .07), (6818.45, 18.10, 0.02, .07),
    (6827.1, 17.62, -0.14, .06), (6827.15, 17.70, -0.06, .06), (6827.2, 17.78, 0.02, .06),
    (6827.25, 17.86, 0.10, .07), (6827.3, 17.96, 0.19, .08),
    (6828.3, 17.50, -0.28, .05), (6828.4, 17.72, -0.06, .06), (6828.45, 17.80, 0.02, .06),
    (6828.5, 17.88, 0.09, .06), (6828.55, 17.94, 0.15, .06),
    (6830.3, 18.00, 0.13, .06), (6831.3, 18.06, 0.08, .07), (6831.35, 18.12, 0.14, .07),
    (6833.3, 18.02, -0.04, .07), (6833.35, 18.10, 0.04, .07),
    (6834.3, 18.04, -0.05, .07), (6834.35, 18.12, 0.03, .07),
    (6835.3, 18.06, -0.05, .07), (6835.35, 18.14, 0.03, .07),
    (6836.3, 18.04, -0.10, .07), (6836.35, 18.12, -0.02, .07),
    (6837.4, 18.20, 0.04, .07), (6837.45, 18.12, -0.04, .07),
    (6838.5, 18.06, -0.12, .07), (6838.55, 18.16, -0.02, .07), (6839.6, 18.10, -0.10, .07),
    (6840.6, 18.02, -0.18, .07), (6840.65, 18.12, -0.08, .07),
    (6842.1, 18.04, -0.18, .07), (6842.15, 18.16, -0.06, .07),
    (6843.2, 18.14, -0.10, .07), (6843.25, 18.20, -0.04, .07),
    (6844.4, 18.22, -0.03, .07), (6844.45, 18.40, 0.14, .08), (6844.5, 18.55, 0.29, .08),
]
GREEN_195 = [
    (6810.0, 18.12, -0.12, .14), (6810.1, 18.32, 0.08, .16), (6810.35, 18.22, -0.02, .15),
    (6810.4, 18.40, 0.16, .18), (6811.9, 18.30, 0.08, .15), (6812.0, 18.05, -0.17, .14),
    (6812.1, 18.20, -0.02, .16), (6812.2, 18.36, 0.14, .15),
    (6812.85, 17.36, -0.50, .24), (6812.9, 17.62, -0.58, .22), (6813.0, 18.00, -0.26, .25),
    (6813.05, 18.25, 0.02, .20),
    (6813.85, 17.75, -0.45, .12), (6813.9, 17.81, -0.38, .13), (6813.95, 17.88, -0.32, .12),
    (6814.0, 18.30, 0.10, .15),
    (6814.85, 17.72, -0.46, .18), (6814.9, 17.82, -0.36, .17), (6814.95, 17.88, -0.30, .16),
    (6815.0, 18.10, -0.08, .18), (6815.05, 18.28, 0.10, .17),
    (6815.3, 18.02, -0.16, .16), (6815.35, 18.25, 0.07, .18), (6815.4, 18.38, 0.20, .17),
    (6816.1, 17.96, -0.20, .20), (6816.15, 18.10, -0.06, .18), (6816.2, 18.30, 0.14, .22),
    (6816.3, 18.38, 0.22, .20), (6816.35, 18.20, 0.05, .18),
    (6818.95, 17.75, -0.31, .22),
    (6819.9, 17.70, -0.30, .16), (6819.95, 17.78, -0.22, .17), (6820.0, 17.85, -0.16, .18),
    (6820.05, 17.95, -0.05, .16), (6820.1, 18.20, 0.20, .20), (6820.15, 18.30, 0.28, .18),
    (6821.1, 17.87, -0.04, .20), (6821.15, 18.00, 0.08, .22), (6821.2, 18.13, 0.20, .20),
    (6821.25, 17.95, 0.03, .21), (6821.3, 18.28, 0.32, .20),
    (6822.55, 17.75, -0.08, .22), (6822.6, 17.88, 0.05, .20), (6822.65, 18.00, 0.17, .21),
    (6822.7, 18.15, 0.30, .22), (6822.75, 17.82, -0.01, .20), (6822.8, 18.25, 0.38, .20),
    (6823.7, 17.60, -0.18, .12), (6823.75, 17.70, -0.08, .13), (6823.8, 17.92, 0.14, .12),
    (6827.7, 17.32, -0.42, .08), (6827.8, 17.40, -0.36, .08), (6827.85, 17.45, -0.31, .08),
    (6827.9, 17.55, -0.22, .08), (6828.0, 17.62, -0.15, .08), (6828.2, 17.57, -0.21, .09),
    (6828.85, 17.23, -0.62, .12), (6829.3, 17.20, -0.65, .12),
    (6830.1, 17.38, -0.58, .13), (6830.4, 17.46, -0.50, .13), (6830.12, 17.62, -0.30, .14),
    (6830.15, 17.70, -0.22, .14), (6830.2, 17.80, -0.12, .14), (6830.25, 17.87, -0.05, .14),
    (6830.45, 18.10, 0.18, .13), (6830.7, 17.80, -0.15, .14), (6830.75, 17.92, -0.02, .13),
    (6830.8, 18.02, 0.08, .14), (6830.9, 18.15, 0.20, .13),
    (6831.4, 17.98, 0.02, .14), (6831.5, 18.08, 0.10, .14),
    (6835.8, 17.82, -0.26, .18), (6835.85, 17.95, -0.13, .20), (6835.9, 18.10, 0.02, .18),
    (6836.0, 18.24, 0.16, .20), (6836.05, 18.34, 0.26, .18),
    (6836.6, 17.84, -0.30, .16), (6836.65, 17.98, -0.16, .17), (6836.7, 18.10, -0.04, .16),
    (6836.75, 18.28, 0.14, .17),
    (6837.9, 18.10, -0.08, .16), (6838.0, 18.26, 0.08, .17), (6838.05, 18.34, 0.16, .16),
    (6839.9, 17.90, -0.30, .20), (6839.95, 18.08, -0.12, .22), (6840.0, 18.24, 0.04, .20),
    (6840.05, 18.42, 0.22, .22), (6840.1, 18.52, 0.32, .20),
    (6840.8, 18.02, -0.20, .22), (6840.85, 18.16, -0.06, .20), (6840.9, 18.30, 0.08, .22),
    (6840.95, 18.45, 0.22, .20), (6841.0, 18.55, 0.32, .22),
    (6841.9, 17.98, -0.25, .18), (6841.95, 18.10, -0.13, .20), (6842.0, 18.28, 0.05, .18),
    (6842.05, 18.52, 0.29, .20),
    (6843.6, 17.96, -0.28, .20), (6843.7, 18.10, -0.14, .22), (6843.8, 18.26, 0.02, .20),
    (6843.85, 18.40, 0.16, .22), (6843.9, 18.52, 0.28, .20),
    (6844.6, 18.18, -0.08, .16), (6844.7, 18.30, 0.04, .18), (6844.9, 18.22, -0.04, .16),
]

# tick labels shown on each panel
XLAB_182 = [6780, 6820, 6860, 6900]
XLAB_188 = [6800, 6840, 6880, 6920]
XLAB_191 = [6810, 6815, 6820, 6825]
XLAB_195 = [6815, 6825, 6835]
YLAB_182 = ([15, 16], [-1, 0])
YLAB_188 = ([13, 14, 15, 16], [-1, 0])
YLAB_191 = ([14, 15, 16], [-0.5, 0, 0.5])
YLAB_195 = ([17.5, 18], [-0.5, 0])

# ---------------------------------------------------------------- figure
W, H = 1120, 1898
fig = plt.figure(figsize=(W / 100, H / 100), dpi=100)
LEFT, RIGHT = 119, 1113


def fig_rect(top, bottom):
    return [LEFT / W, 1 - bottom / H, (RIGHT - LEFT) / W, (bottom - top) / H]


def label_only(values):
    def fmt(v, pos):
        for l in values:
            if abs(v - l) < 1e-6:
                return "%g" % l
        return ""
    return FuncFormatter(fmt)


def style_axis(ax):
    for s in ax.spines.values():
        s.set_color(FRAME)
        s.set_linewidth(1.6)
    ax.tick_params(which="both", direction="in", top=True, right=True,
                   color=FRAME, labelsize=21.5, labelcolor="#222222", pad=11)
    ax.tick_params(which="major", length=7.5, width=1.3)
    ax.tick_params(which="minor", length=3.8, width=1.1)


def errpoints(ax, axr, pts, marker, color, ms, z):
    t = [p[0] for p in pts]
    m = [p[1] for p in pts]
    r = [p[2] for p in pts]
    e = [p[3] for p in pts]
    kw = dict(fmt=marker, mfc="none", mec=color, ecolor=color, ms=ms, mew=1.5,
              elinewidth=1.4, capsize=0, zorder=z)
    ax.errorbar(t, m, yerr=e, **kw)
    axr.errorbar(t, r, yerr=e, **kw)


def panel(px, xlim, ylim, rlim, xstep, xminor, ystep, yminor, rstep, rminor,
          xlabels, ylabels, single, binary, red, blue, green, labels, sizes):
    top, mid, bot = px
    ax = fig.add_axes(fig_rect(top, mid))
    axr = fig.add_axes(fig_rect(mid, bot), sharex=ax)
    ms_b, ms_r, ms_g = sizes
    errpoints(ax, axr, green, "d", GREEN, ms_g, 2)
    errpoints(ax, axr, red, "s", RED, ms_r, 3)
    errpoints(ax, axr, blue, "o", BLUE, ms_b, 4)
    ax.plot(single[0], single[1], color="k", lw=1.2, zorder=5)
    ax.plot(binary[0], binary[1], color=MAGENTA, lw=2.0, ls="-.", zorder=6)
    axr.axhline(0, color="k", lw=1.2, zorder=1)

    ax.set_xlim(*xlim)
    ax.set_ylim(*ylim)
    axr.set_ylim(*rlim)
    for a in (ax, axr):
        style_axis(a)
        a.xaxis.set_major_locator(MultipleLocator(xstep))
        a.xaxis.set_minor_locator(MultipleLocator(xminor))
        a.xaxis.set_major_formatter(label_only(xlabels))
    ax.tick_params(labelbottom=False)
    ax.yaxis.set_major_locator(MultipleLocator(ystep))
    ax.yaxis.set_minor_locator(MultipleLocator(yminor))
    ax.yaxis.set_major_formatter(label_only(ylabels[0]))
    axr.yaxis.set_major_locator(MultipleLocator(rstep))
    axr.yaxis.set_minor_locator(MultipleLocator(rminor))
    axr.yaxis.set_major_formatter(label_only(ylabels[1]))

    ax.set_ylabel("I-mag", fontsize=23.5)
    ax.yaxis.set_label_coords(-0.088, 0.555)
    axr.set_ylabel("residuals", fontsize=23.5)
    axr.yaxis.set_label_coords(-0.088, 0.52)

    for txt, yy in zip(labels, (0.81, 0.688, 0.566)):
        ax.text(0.0704, yy, txt, transform=ax.transAxes, fontsize=18,
                ha="left", va="center", zorder=1)
    return ax, axr


panel((1, 246.7, 385), (6765, 6925), (16.78, 14.6), (0.40, -1.82), 20, 5, 1, 0.25, 1, 0.25,
      XLAB_182, YLAB_182, (SINGLE_182_T, SINGLE_182_M), (BINARY_182_T, BINARY_182_M),
      RED_182, BLUE_182, GREEN_182, LABEL_182, (7.5, 6.5, 9.5))
panel((480, 726.7, 863.3), (6790, 6930), (16.14, 12.91), (0.74, -1.95), 20, 4, 1, 0.5, 1, 0.5,
      XLAB_188, YLAB_188, (SINGLE_188_T, SINGLE_188_M), (BINARY_188_T, BINARY_188_M),
      RED_188, BLUE_188, GREEN_188, LABEL_188, (7.5, 6.5, 11))
panel((959, 1205, 1342.7), (6805, 6830), (16.27, 13.30), (0.81, -1.0), 5, 1, 1, 0.5, 0.5, 0.25,
      XLAB_191, YLAB_191, (SINGLE_191_T, SINGLE_191_M), (BINARY_191_T, BINARY_191_M),
      RED_191, BLUE_191, GREEN_191, LABEL_191, (7, 6.5, 10.5))
panel((1438.3, 1685, 1821.7), (6810, 6845), (18.60, 17.0), (0.51, -0.79), 5, 1.25, 0.5, 0.25,
      0.5, 0.25, XLAB_195, YLAB_195, (SINGLE_195_T, SINGLE_195_M),
      (BINARY_195_T, BINARY_195_M), RED_195, BLUE_195, GREEN_195, LABEL_195, (8, 6.5, 9))

fig.text(0.54, 1 - 1882 / H, "HJD-2450000", fontsize=23.5, ha="center", va="center",
         color="#222222")

fig.savefig("out.png", dpi=100)
